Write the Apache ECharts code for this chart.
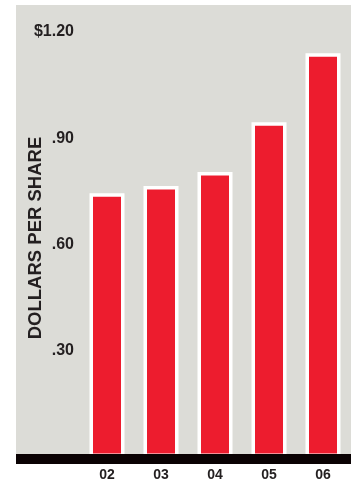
<!DOCTYPE html>
<html>
<head>
<meta charset="utf-8">
<script src="https://cdn.jsdelivr.net/npm/echarts@6/dist/echarts.min.js"></script>
<style>
html,body{margin:0;padding:0;background:#fff;}
#c{width:351px;height:482px;}
</style>
</head>
<body>
<div id="c"></div>
<script>
const categories = ['02', '03', '04', '05', '06'];
const dividends = [0.745, 0.765, 0.805, 0.945, 1.14];
const yTicks = {0.3: '.30', 0.6: '.60', 0.9: '.90', 1.2: '$1.20'};
const axisTitle = 'DOLLARS PER SHARE';

const chart = echarts.init(document.getElementById('c'), null, {renderer: 'canvas'});
const font = 'Liberation Sans, Arial, Helvetica, sans-serif';
chart.setOption({
  animation: false,
  backgroundColor: '#ffffff',
  grid: {left: 80, right: 1, top: 32, bottom: 23, containLabel: false},
  xAxis: {
    type: 'category',
    data: categories,
    axisLine: {show: false},
    axisTick: {show: false},
    axisLabel: {color: '#231f20', fontFamily: font, fontWeight: 'bold', fontSize: 14, margin: 11}
  },
  yAxis: {
    type: 'value',
    min: 0, max: 1.2, interval: 0.3,
    splitLine: {show: false},
    axisLine: {show: false},
    axisTick: {show: false},
    axisLabel: {
      color: '#231f20', fontFamily: font, fontWeight: 'bold', fontSize: 16, margin: 6,
      formatter: v => yTicks[Math.round(v * 10) / 10] || ''
    }
  },
  graphic: [
    {type: 'rect', z: -100, shape: {x: 16, y: 5, width: 335, height: 449}, style: {fill: '#dcdcd7'}},
    {type: 'rect', z: 100, shape: {x: 16, y: 454, width: 335, height: 10}, style: {fill: '#0a0203'}},
    {type: 'text', z: 100, x: 35.5, y: 238, rotation: Math.PI / 2,
      style: {text: axisTitle, fill: '#231f20', font: 'bold 18.5px ' + font, textAlign: 'center', textVerticalAlign: 'middle'}}
  ],
  series: [{
    type: 'bar',
    data: dividends,
    barWidth: 35,
    itemStyle: {color: '#ed1c2e', borderColor: '#ffffff', borderWidth: 3.5}
  }]
});
</script>
</body>
</html>
